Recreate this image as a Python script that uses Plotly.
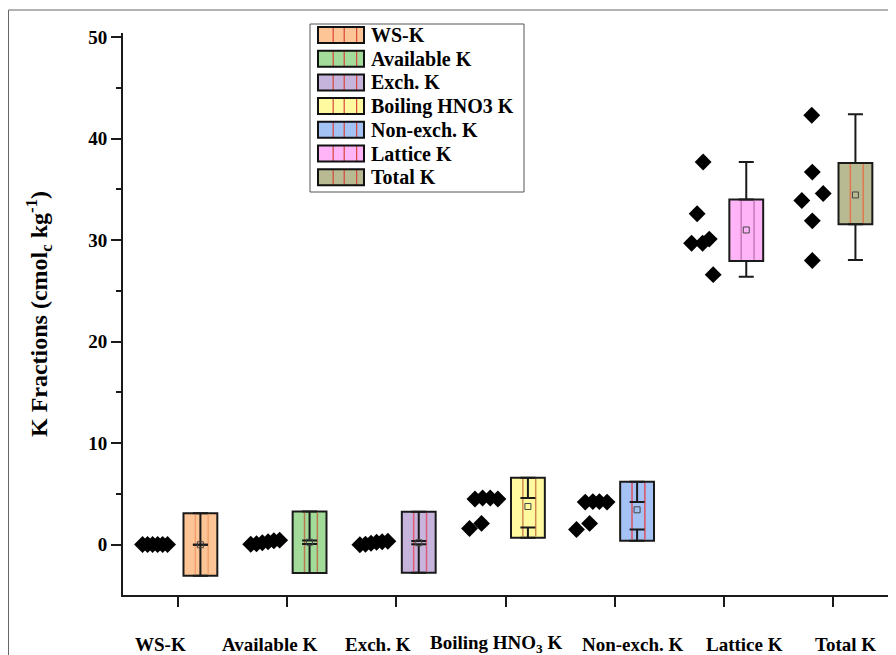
import plotly.graph_objects as go

# ---------------- data ----------------
categories = ["WS-K", "Available K", "Exch. K", "Boiling HNO<sub>3</sub> K",
              "Non-exch. K", "Lattice K", "Total K"]
legend_names = ["WS-K", "Available K", "Exch. K", "Boiling HNO3 K",
                "Non-exch. K", "Lattice K", "Total K"]

ws_k = [0.02, 0.02, 0.02, 0.02, 0.02, 0.02]
available_k = [0.05, 0.1, 0.2, 0.3, 0.4, 0.45]
exch_k = [0.0, 0.05, 0.15, 0.25, 0.3, 0.35]
boiling_k = [1.6, 2.1, 4.5, 4.6, 4.6, 4.5]
nonexch_k = [1.5, 2.1, 4.2, 4.25, 4.25, 4.2]
lattice_k = [37.7, 32.6, 29.7, 29.7, 30.1, 26.6]
total_k = [42.3, 36.7, 33.9, 34.6, 31.9, 28.0]
series_points = [ws_k, available_k, exch_k, boiling_k, nonexch_k, lattice_k, total_k]

box_low = [-3.05, -2.79, -2.75, 0.7, 0.4, 27.95, 31.56]
box_high = [3.1, 3.28, 3.25, 6.6, 6.2, 34.0, 37.6]
whisker_low = [0.0, 0.07, 0.05, 1.7, 1.5, 26.4, 28.05]
whisker_high = [0.0, 0.42, 0.38, 4.6, 4.2, 37.7, 42.4]
means = [0.0, 0.25, 0.2, 3.77, 3.44, 31.0, 34.45]

# ---------------- styles ----------------
fill_colors = ["#FDC596", "#A3DC9A", "#C6B4DC", "#FFFAA0", "#A4C2F4", "#FFB4F8", "#B8BA92"]
stripe_colors = ["#F0A070", "#B87850", "#E05A78", "#D08A50", "#E05060", "#C878B8", "#E07850"]
legend_line_color = "#D9453A"
ink = "#1a1a1a"

# horizontal jitter of the data points left of each category tick
point_offsets = [
    [-0.325, -0.279, -0.233, -0.187, -0.141, -0.096],
    [-0.334, -0.281, -0.228, -0.175, -0.122, -0.069],
    [-0.334, -0.283, -0.232, -0.181, -0.130, -0.078],
    [-0.33, -0.22, -0.28, -0.21, -0.14, -0.07],
    [-0.35, -0.23, -0.27, -0.20, -0.14, -0.07],
    [-0.19, -0.245, -0.296, -0.195, -0.134, -0.098],
    [-0.195, -0.19, -0.286, -0.09, -0.19, -0.19],
]
# horizontal shift of the category labels relative to their ticks
label_shift = [-0.16, -0.16, -0.17, -0.08, 0.17, 0.19, 0.11]
box_shift = 0.205
box_w = 0.31
stripe_rel = [0.35, 0.73]

# page offset of the figure (default body margin of the html page)
OFF = 8
W, H = 888, 647
ML, MR, MT, MB = 115, 4, 25, 60
PW, PH = W - ML - MR, H - MT - MB


def px_x(px):  # page pixel -> paper x
    return (px - OFF - ML) / PW


def px_y(py):  # page pixel -> paper y
    return (MT + PH - (py - OFF)) / PH


font_family = "Liberation Serif, Times New Roman, serif"

fig = go.Figure()

n = len(categories)
box_pos = [i + box_shift for i in range(n)]

# box bodies
for i in range(n):
    fig.add_trace(go.Bar(
        x=[box_pos[i]], y=[box_high[i] - box_low[i]], base=[box_low[i]],
        width=box_w, marker=dict(color=fill_colors[i], line=dict(width=2, color=ink)),
        name=legend_names[i], showlegend=False, hoverinfo="skip"))

# stripes inside boxes
for i in range(n):
    xs, ys = [], []
    for r in stripe_rel:
        xx = box_pos[i] + box_w * (r - 0.5)
        xs += [xx, xx, None]
        ys += [box_low[i] + 0.12, box_high[i] - 0.12, None]
    fig.add_trace(go.Scatter(x=xs, y=ys, mode="lines",
                             line=dict(color=stripe_colors[i], width=1.5),
                             showlegend=False, hoverinfo="skip"))

# whiskers from box edges to the whisker caps
top_plus = [max(wh - bh, 0) for wh, bh in zip(whisker_high, box_high)]
top_minus = [max(bh - wh, 0) for wh, bh in zip(whisker_high, box_high)]
bot_plus = [max(wl - bl, 0) for wl, bl in zip(whisker_low, box_low)]
bot_minus = [max(bl - wl, 0) for wl, bl in zip(whisker_low, box_low)]
for yy, plus, minus in [(box_high, top_plus, top_minus), (box_low, bot_plus, bot_minus)]:
    fig.add_trace(go.Scatter(
        x=box_pos, y=yy, mode="markers",
        marker=dict(size=2, color="rgba(0,0,0,0)"),
        error_y=dict(type="data", symmetric=False, array=plus, arrayminus=minus,
                     color=ink, thickness=2, width=7.5),
        showlegend=False, hoverinfo="skip"))

# mean markers
fig.add_trace(go.Scatter(
    x=box_pos, y=means, mode="markers",
    marker=dict(symbol="square-open", size=6, color="#444", line=dict(width=1)),
    showlegend=False))

# data points
for i in range(n):
    fig.add_trace(go.Scatter(
        x=[i + o for o in point_offsets[i]], y=series_points[i], mode="markers",
        marker=dict(symbol="diamond", size=13, color="black"),
        showlegend=False))

# ---------------- manual legend ----------------
shapes = []
annotations = []
shapes.append(dict(type="rect", xref="paper", yref="paper",
                   x0=px_x(310), x1=px_x(524), y0=px_y(192), y1=px_y(24),
                   line=dict(color="#555", width=1), fillcolor="white", layer="above"))
row0, pitch = 35, 23.7
for i, name in enumerate(legend_names):
    cy = row0 + i * pitch
    sx0, sx1 = 318, 364
    sy0, sy1 = cy - 8, cy + 8
    shapes.append(dict(type="rect", xref="paper", yref="paper",
                       x0=px_x(sx0), x1=px_x(sx1), y0=px_y(sy1), y1=px_y(sy0),
                       fillcolor=fill_colors[i], line=dict(width=0), layer="above"))
    for r in [0.33, 0.57, 0.84]:
        lx = sx0 + r * (sx1 - sx0)
        shapes.append(dict(type="line", xref="paper", yref="paper",
                           x0=px_x(lx), x1=px_x(lx), y0=px_y(sy1), y1=px_y(sy0),
                           line=dict(color=legend_line_color, width=1.2), layer="above"))
    shapes.append(dict(type="rect", xref="paper", yref="paper",
                       x0=px_x(sx0), x1=px_x(sx1), y0=px_y(sy1), y1=px_y(sy0),
                       line=dict(color="#111", width=2), layer="above"))
    annotations.append(dict(xref="paper", yref="paper", x=px_x(369), y=px_y(cy),
                            xanchor="left", yanchor="middle", text=name, showarrow=False,
                            font=dict(family=font_family, size=20, color="black", weight="bold")))

# category labels below the axis
for i, cat in enumerate(categories):
    annotations.append(dict(xref="x", yref="paper", x=i + label_shift[i], y=px_y(644),
                            xanchor="center", yanchor="middle", text=cat, showarrow=False,
                            font=dict(family=font_family, size=19, color="black", weight="bold")))

# outer frame (left and top edges)
shapes.append(dict(type="line", xref="paper", yref="paper",
                   x0=px_x(8.5), x1=px_x(8.5), y0=px_y(655), y1=px_y(10),
                   line=dict(color="#666", width=1)))
shapes.append(dict(type="line", xref="paper", yref="paper",
                   x0=px_x(8.5), x1=px_x(896), y0=px_y(10), y1=px_y(10),
                   line=dict(color="#666", width=1)))

fig.update_layout(
    width=W, height=H,
    margin=dict(l=ML, r=MR, t=MT, b=MB, autoexpand=False),
    plot_bgcolor="white", paper_bgcolor="white",
    barmode="overlay",
    showlegend=False,
    shapes=shapes, annotations=annotations,
    font=dict(family=font_family, color="black"),
    xaxis=dict(range=[-0.504, 6.54], tickmode="array", tickvals=list(range(n)),
               showticklabels=False, automargin=False,
               ticks="outside", ticklen=10, tickwidth=2,
               tickcolor=ink, showline=True, linewidth=2, linecolor=ink,
               showgrid=False, zeroline=False),
    yaxis=dict(range=[-4.95, 50.4], tickmode="array", tickvals=[0, 10, 20, 30, 40, 50],
               ticks="outside", ticklen=10, tickwidth=2, tickcolor=ink, automargin=False,
               showline=True, linewidth=2, linecolor=ink, showgrid=False,
               zeroline=False,
               minor=dict(ticks="outside", ticklen=5, tickwidth=2, tickcolor=ink,
                          tickvals=[5, 15, 25, 35, 45]),
               tickfont=dict(family=font_family, size=19, weight="bold"),
               title=dict(text="K Fractions (cmol<sub>c</sub> kg<sup>-1</sup>)",
                          font=dict(family=font_family, size=24, weight="bold"),
                          standoff=34)),
)

fig.write_html("out.html")
